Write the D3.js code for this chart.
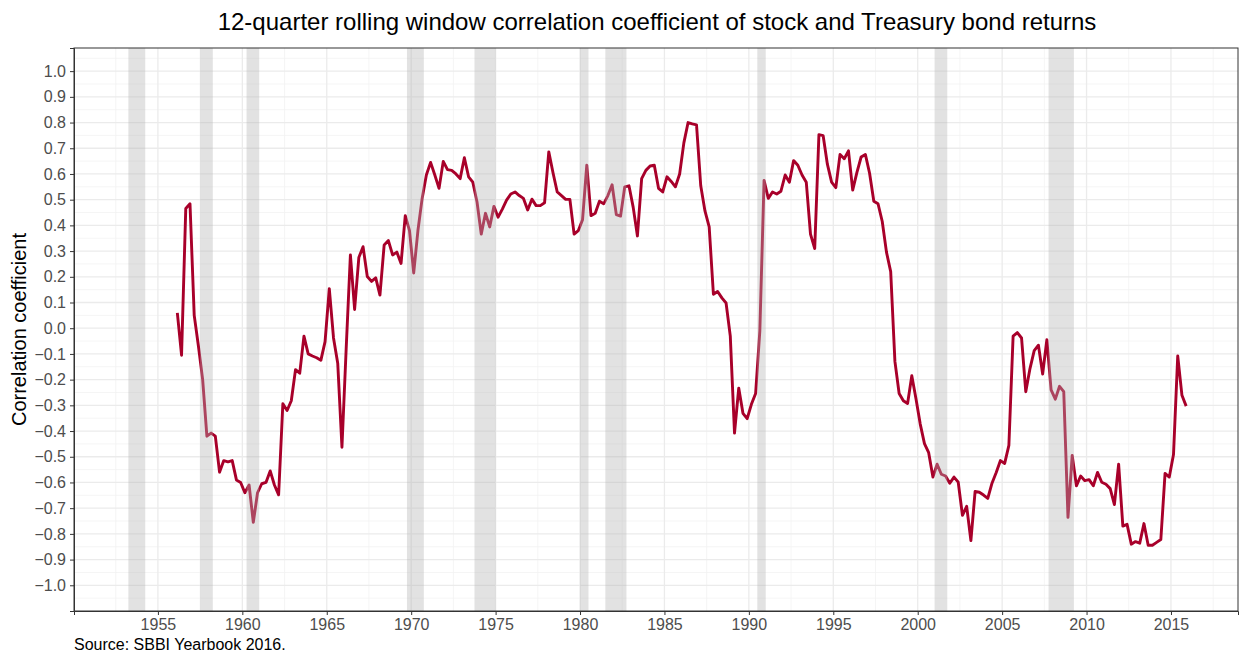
<!DOCTYPE html>
<html>
<head>
<meta charset="utf-8">
<script src="https://cdn.jsdelivr.net/npm/d3@7"></script>
<style>
  html, body { margin: 0; padding: 0; background: #ffffff; }
  svg { display: block; font-family: "Liberation Sans", Arial, sans-serif; }
</style>
</head>
<body>
<svg id="chart" width="1239" height="654"></svg>
<script>
// ---- Data ----
const titleText = "12-quarter rolling window correlation coefficient of stock and Treasury bond returns";
const yTitle = "Correlation coefficient";
const sourceText = "Source: SBBI Yearbook 2016.";

// first quarterly observation (fractional year) and step
const firstObs = 1956.15;
const obsStep = 0.25;

// 12-quarter rolling correlation values, one per quarter
const corr = [
  0.06, -0.105, 0.466, 0.484, 0.05, -0.07, -0.2, -0.42, -0.408, -0.42,
  -0.56, -0.515, -0.52, -0.515, -0.59, -0.60, -0.64, -0.61, -0.755, -0.64,
  -0.605, -0.60, -0.555, -0.61, -0.648, -0.294, -0.32, -0.282, -0.161, -0.175,
  -0.031, -0.10, -0.108, -0.115, -0.125, -0.052, 0.154, -0.038, -0.136, -0.463,
  -0.08, 0.285, 0.073, 0.275, 0.317, 0.201, 0.182, 0.196, 0.129, 0.324,
  0.341, 0.285, 0.296, 0.252, 0.438, 0.38, 0.215, 0.38, 0.505, 0.596,
  0.645, 0.596, 0.544, 0.649, 0.617, 0.614, 0.60, 0.582, 0.663, 0.589,
  0.568, 0.491, 0.366, 0.447, 0.394, 0.474, 0.432, 0.463, 0.498, 0.522,
  0.53, 0.516, 0.505, 0.46, 0.502, 0.477, 0.477, 0.488, 0.686, 0.605,
  0.53, 0.516, 0.501, 0.501, 0.366, 0.38, 0.422, 0.634, 0.438, 0.447,
  0.494, 0.484, 0.516, 0.558, 0.442, 0.436, 0.55, 0.554, 0.47, 0.359,
  0.582, 0.614, 0.631, 0.634, 0.544, 0.53, 0.589, 0.571, 0.55, 0.60,
  0.721, 0.80, 0.795, 0.791, 0.554, 0.456, 0.394, 0.132, 0.143, 0.118,
  0.098, -0.031, -0.408, -0.233, -0.331, -0.352, -0.296, -0.254, -0.01, 0.575,
  0.505, 0.53, 0.522, 0.533, 0.596, 0.568, 0.652, 0.634, 0.596, 0.568,
  0.366, 0.31, 0.753, 0.749, 0.638, 0.568, 0.547, 0.676, 0.659, 0.69,
  0.537, 0.606, 0.666, 0.676, 0.603, 0.494, 0.484, 0.415, 0.296, 0.22,
  -0.129, -0.254, -0.282, -0.293, -0.185, -0.275, -0.373, -0.449, -0.484, -0.579,
  -0.529, -0.568, -0.575, -0.603, -0.579, -0.599, -0.728, -0.693, -0.826, -0.635,
  -0.638, -0.649, -0.662, -0.603, -0.561, -0.515, -0.526, -0.456, -0.031, -0.017,
  -0.038, -0.247, -0.157, -0.087, -0.066, -0.178, -0.045, -0.24, -0.276, -0.226,
  -0.247, -0.736, -0.495, -0.613, -0.575, -0.593, -0.589, -0.613, -0.561, -0.599,
  -0.607, -0.624, -0.686, -0.529, -0.77, -0.763, -0.84, -0.83, -0.836, -0.76,
  -0.844, -0.844, -0.833, -0.822, -0.565, -0.579, -0.491, -0.108, -0.261, -0.303
];

// recession periods (fractional years)
const recessionStart = [1953.25, 1957.5, 1960.25, 1969.75, 1973.75, 1980.0, 1981.5, 1990.5, 2001.0, 2007.75];
const recessionEnd   = [1954.25, 1958.25, 1961.0, 1970.75, 1975.0, 1980.5, 1982.75, 1991.0, 2001.75, 2009.25];

// axis ticks
const xTicks = [1955, 1960, 1965, 1970, 1975, 1980, 1985, 1990, 1995, 2000, 2005, 2010, 2015];
const xMinorTicks = [1952.5, 1957.5, 1962.5, 1967.5, 1972.5, 1977.5, 1982.5, 1987.5, 1992.5, 1997.5, 2002.5, 2007.5, 2012.5, 2017.5];
const yTicks = [-1.0, -0.9, -0.8, -0.7, -0.6, -0.5, -0.4, -0.3, -0.2, -0.1, 0.0, 0.1, 0.2, 0.3, 0.4, 0.5, 0.6, 0.7, 0.8, 0.9, 1.0];
const yMinorTicks = [-1.05, -0.95, -0.85, -0.75, -0.65, -0.55, -0.45, -0.35, -0.25, -0.15, -0.05, 0.05, 0.15, 0.25, 0.35, 0.45, 0.55, 0.65, 0.75, 0.85, 0.95, 1.05];

// ---- Layout ----
const svg = d3.select("#chart");
const panel = { left: 74, right: 1238, top: 48, bottom: 611 };
const FONT = "'Liberation Sans', Arial, sans-serif";

const x = d3.scaleLinear().domain([1950.03, 2018.97]).range([panel.left, panel.right]);
const y = d3.scaleLinear().domain([-1.1, 1.09]).range([panel.bottom, panel.top]);

const data = corr.map((v, i) => ({ t: firstObs + i * obsStep, v }));

// clip
svg.append("defs").append("clipPath").attr("id", "clip")
  .append("rect").attr("x", panel.left).attr("y", panel.top)
  .attr("width", panel.right - panel.left).attr("height", panel.bottom - panel.top);

// background
svg.append("rect").attr("x", 0).attr("y", 0).attr("width", 1239).attr("height", 654).attr("fill", "#fff");

const grid = svg.append("g").attr("clip-path", "url(#clip)");
// minor grid
grid.selectAll(".ymin").data(yMinorTicks).enter().append("line")
  .attr("x1", panel.left).attr("x2", panel.right)
  .attr("y1", d => y(d)).attr("y2", d => y(d))
  .attr("stroke", "#f2f2f2").attr("stroke-width", 0.8);
grid.selectAll(".xmin").data(xMinorTicks).enter().append("line")
  .attr("y1", panel.top).attr("y2", panel.bottom)
  .attr("x1", d => x(d)).attr("x2", d => x(d))
  .attr("stroke", "#f2f2f2").attr("stroke-width", 0.8);
// major grid
grid.selectAll(".ymaj").data(yTicks).enter().append("line")
  .attr("x1", panel.left).attr("x2", panel.right)
  .attr("y1", d => y(d)).attr("y2", d => y(d))
  .attr("stroke", "#ebebeb").attr("stroke-width", 1.3);
grid.selectAll(".xmaj").data(xTicks).enter().append("line")
  .attr("y1", panel.top).attr("y2", panel.bottom)
  .attr("x1", d => x(d)).attr("x2", d => x(d))
  .attr("stroke", "#ebebeb").attr("stroke-width", 1.3);

// line
const line = d3.line().x(d => x(d.t)).y(d => y(d.v));
svg.append("path").datum(data)
  .attr("clip-path", "url(#clip)")
  .attr("fill", "none")
  .attr("stroke", "#a8002a")
  .attr("stroke-width", 2.9)
  .attr("stroke-linejoin", "round")
  .attr("stroke-linecap", "butt")
  .attr("d", line);

// recession bands (semi-transparent, over the line)
svg.append("g").attr("clip-path", "url(#clip)")
  .selectAll("rect").data(recessionStart.map((s, i) => [s, recessionEnd[i]])).enter()
  .append("rect")
  .attr("x", d => x(d[0]))
  .attr("width", d => x(d[1]) - x(d[0]))
  .attr("y", panel.top).attr("height", panel.bottom - panel.top)
  .attr("fill", "#b3b3b3").attr("fill-opacity", 0.38);

// panel border
svg.append("rect")
  .attr("x", panel.left).attr("y", panel.top)
  .attr("width", panel.right - panel.left).attr("height", panel.bottom - panel.top)
  .attr("fill", "none").attr("stroke", "#333333").attr("stroke-width", 1);

// axes
const xAxis = d3.axisBottom(x).tickValues(xTicks).tickFormat(d3.format("d")).tickSize(4).tickPadding(4);
const gx = svg.append("g").attr("transform", `translate(0,${panel.bottom})`).call(xAxis);
gx.select(".domain").attr("stroke", "#333333");
gx.selectAll(".tick line").attr("stroke", "#333333");
gx.selectAll(".tick text").attr("fill", "#4d4d4d").style("font-size", "16px").style("font-family", FONT);

const yAxis = d3.axisLeft(y).tickValues(yTicks).tickFormat(d3.format(".1f")).tickSize(4).tickPadding(4);
const gy = svg.append("g").attr("transform", `translate(${panel.left},0)`).call(yAxis);
gy.select(".domain").attr("stroke", "#333333");
gy.selectAll(".tick line").attr("stroke", "#333333");
gy.selectAll(".tick text").attr("fill", "#4d4d4d").style("font-size", "16px").style("font-family", FONT);

// titles
svg.append("text")
  .attr("x", 657).attr("y", 30)
  .attr("text-anchor", "middle")
  .attr("fill", "#000")
  .style("font-size", "24px").style("font-family", FONT)
  .text(titleText);

svg.append("text")
  .attr("transform", `translate(26,${(panel.top + panel.bottom) / 2}) rotate(-90)`)
  .attr("text-anchor", "middle")
  .attr("fill", "#000")
  .style("font-size", "20px").style("font-family", FONT)
  .text(yTitle);

svg.append("text")
  .attr("x", panel.left).attr("y", 650)
  .attr("fill", "#000")
  .style("font-size", "16px").style("font-family", FONT)
  .text(sourceText);
</script>
</body>
</html>
